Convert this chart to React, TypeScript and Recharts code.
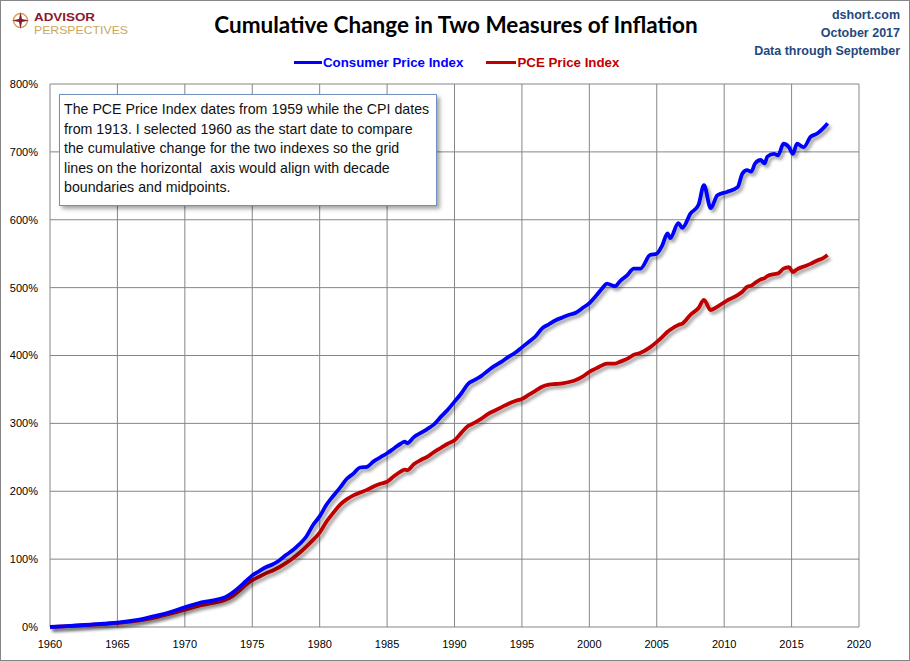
import React from "react";
import { LineChart, Line, XAxis, YAxis, CartesianGrid } from "recharts";

const years = [
  1960, 1961, 1962, 1963, 1964, 1965, 1966, 1967, 1968, 1969,
  1970, 1971, 1972, 1973, 1973.5, 1974, 1974.5, 1975, 1975.5, 1976,
  1976.5, 1977, 1977.5, 1978, 1978.5, 1979, 1979.5, 1980, 1980.5, 1981,
  1981.5, 1982, 1982.5, 1983, 1983.5, 1984, 1984.5, 1985, 1985.5, 1986,
  1986.3, 1986.5, 1987, 1987.5, 1988, 1988.5, 1989, 1989.5, 1990, 1990.5,
  1991, 1991.5, 1992, 1992.5, 1993, 1993.5, 1994, 1994.5, 1995, 1995.5,
  1996, 1996.5, 1997, 1997.5, 1998, 1998.5, 1999, 1999.5, 2000, 2000.5,
  2001, 2001.3, 2001.9, 2002.3, 2002.8, 2003.3, 2003.8, 2004.5, 2005, 2005.4,
  2005.8, 2006, 2006.6, 2006.9, 2007.5, 2008.1, 2008.5, 2009, 2009.5, 2010.2,
  2011, 2011.35, 2011.7, 2012, 2012.3, 2012.7, 2013, 2013.2, 2013.7, 2014,
  2014.4, 2014.8, 2015.1, 2015.4, 2015.9, 2016.4, 2016.9, 2017.3, 2017.67,
];

const cpi = [
  0, 1, 2.2, 3.5, 4.8, 6.3, 9, 12.5, 17, 22.5,
  29, 35, 39, 44, 50, 58, 67, 76, 82, 88,
  92, 98, 106, 113, 122, 133, 150, 163, 180, 193,
  205, 218, 226, 235, 236, 244, 250, 256, 263, 270,
  273, 271, 280, 286, 292, 299, 310, 320, 332, 344,
  358, 364, 370, 378, 385, 391, 398, 404, 412, 420,
  428, 440, 446, 452, 456, 460, 463, 470, 477, 488,
  500, 506, 502, 510, 518, 528, 528, 548, 550, 562,
  580, 573, 595, 588, 609, 622, 651, 617, 636, 641,
  648, 668, 673, 671, 683, 688, 683, 693, 697, 695,
  712, 707, 697, 712, 707, 722, 727, 734, 742,
];

const pce = [
  0, 0.8, 2, 3.2, 4.5, 5.8, 8, 11, 15, 20,
  25.5, 31, 35, 40, 45, 53, 62, 69, 74, 79,
  83, 88, 94, 101, 109, 118, 128, 139, 155, 168,
  180, 188, 194, 198, 202, 207, 211, 214, 222, 229,
  232, 231, 240, 246, 251, 258, 264, 270, 275, 286,
  296, 301, 307, 314, 319, 324, 329, 333, 336, 342,
  348, 354, 357, 358, 359, 361, 364, 369, 376, 381,
  386, 388, 388, 391, 395, 401, 404, 412, 420, 427,
  435, 438, 445, 447, 460, 470, 482, 467, 472, 481,
  489, 494, 501, 503, 507, 512, 514, 517, 520, 521,
  528, 530, 523, 527, 531, 535, 540, 543, 548,
];

const xTicks = [1960, 1965, 1970, 1975, 1980, 1985, 1990, 1995, 2000, 2005, 2010, 2015, 2020];
const yTicks = [0, 100, 200, 300, 400, 500, 600, 700, 800];

const noteLines = [
  "The PCE Price Index dates from 1959 while the CPI dates",
  "from 1913. I selected 1960 as the start date to compare",
  "the cumulative change for the two indexes so the grid",
  "lines on the horizontal  axis would align with decade",
  "boundaries and midpoints.",
];

const data = years.map((year, i) => ({ year, cpi: cpi[i], pce: pce[i] }));

const sans = "'Liberation Sans', Arial, sans-serif";
const axisFont = { fontFamily: sans, fontSize: 11, fill: "#000" };
const headFont = "Lato, 'Open Sans', sans-serif";

export default function App() {
  return (
    <div
      style={{
        position: "absolute",
        left: 0,
        top: 0,
        width: 910,
        height: 661,
        boxSizing: "border-box",
        border: "1px solid #868686",
        background: "#fff",
        overflow: "hidden",
      }}
    >
      <LineChart
        width={908}
        height={659}
        data={data}
        margin={{ top: 83, right: 5, bottom: 8, left: 4 }}
        style={{ position: "absolute", left: 0, top: 0 }}
      >
        <defs>
          <filter id="shadow" x="-5%" y="-5%" width="110%" height="110%">
            <feDropShadow dx="2.5" dy="3" stdDeviation="1.4" floodColor="#000" floodOpacity="0.35" />
          </filter>
        </defs>
        <CartesianGrid stroke="#868686" strokeWidth={1} yAxisId="left" />
        <XAxis
          type="number"
          dataKey="year"
          domain={[1960, 2020]}
          ticks={xTicks}
          allowDataOverflow
          tickLine={false}
          axisLine={false}
          tickSize={0}
          tickMargin={13}
          height={25}
          tick={axisFont}
        />
        <YAxis
          yAxisId="left"
          domain={[0, 800]}
          ticks={yTicks}
          tickFormatter={(v) => `${v}%`}
          tickLine={false}
          axisLine={false}
          tickSize={0}
          tickMargin={12}
          width={45}
          tick={axisFont}
        />
        <YAxis
          yAxisId="right"
          orientation="right"
          domain={[0, 800]}
          ticks={yTicks}
          tickFormatter={(v) => `${v}%`}
          tickLine={false}
          axisLine={false}
          tickSize={0}
          tickMargin={14}
          width={45}
          tick={axisFont}
        />
        <Line
          yAxisId="left"
          type="monotone"
          dataKey="pce"
          stroke="#C00000"
          strokeWidth={3.8}
          dot={false}
          filter="url(#shadow)"
          isAnimationActive={false}
        />
        <Line
          yAxisId="left"
          type="monotone"
          dataKey="cpi"
          stroke="#0000FF"
          strokeWidth={3.8}
          dot={false}
          filter="url(#shadow)"
          isAnimationActive={false}
        />
      </LineChart>

      {/* logo */}
      <svg width={140} height={38} style={{ position: "absolute", left: 0, top: 0 }}>
        <circle cx={19.5} cy={19.5} r={7} fill="none" stroke="#C9A860" strokeWidth={1.5} />
        <path d="M19.5 11 L21 18 L28 19.5 L21 21 L19.5 28 L18 21 L11 19.5 L18 18 Z" fill="#8B1A2B" />
        <text x={33} y={20} fontFamily={sans} fontSize={10.8} fontWeight="bold" fill="#8B1A2B" textLength={61} lengthAdjust="spacingAndGlyphs">
          ADVISOR
        </text>
        <text x={33} y={32.6} fontFamily={sans} fontSize={10.8} fill="#C9A860" textLength={94} lengthAdjust="spacingAndGlyphs">
          PERSPECTIVES
        </text>
      </svg>

      {/* title */}
      <div
        style={{
          position: "absolute",
          left: 0,
          top: 10,
          width: 910,
          textAlign: "center",
          fontFamily: headFont,
          fontWeight: 700,
          fontSize: 22.5,
          color: "#000",
        }}
      >
        Cumulative Change in Two Measures of Inflation
      </div>

      {/* top right notes */}
      <div
        style={{
          position: "absolute",
          right: 9,
          top: 5,
          textAlign: "right",
          fontFamily: sans,
          fontWeight: 700,
          fontSize: 12.5,
          lineHeight: "18px",
          color: "#1F497D",
        }}
      >
        <div>dshort.com</div>
        <div>October 2017</div>
        <div>Data through September</div>
      </div>

      {/* legend */}
      <div
        style={{
          position: "absolute",
          left: 293,
          top: 54,
          display: "flex",
          alignItems: "center",
          fontFamily: sans,
          fontWeight: 700,
          fontSize: 13.3,
        }}
      >
        <span style={{ display: "inline-block", width: 28, height: 3, background: "#0000FF", marginRight: 1 }} />
        <span style={{ color: "#0000FF" }}>Consumer Price Index</span>
        <span style={{ display: "inline-block", width: 30, height: 3, background: "#C00000", marginLeft: 23, marginRight: 1 }} />
        <span style={{ color: "#C00000" }}>PCE Price Index</span>
      </div>

      {/* note box */}
      <div
        style={{
          position: "absolute",
          left: 58,
          top: 93,
          width: 378,
          height: 112,
          boxSizing: "border-box",
          border: "1px solid #6F8FC0",
          background: "#fff",
          boxShadow: "3px 3px 4px rgba(0,0,0,0.35)",
          padding: "5px 0 0 4px",
          fontFamily: sans,
          fontSize: 14.2,
          lineHeight: "19.5px",
          color: "#111",
          whiteSpace: "pre",
        }}
      >
        {noteLines.map((l) => (
          <div key={l}>{l}</div>
        ))}
      </div>
    </div>
  );
}
